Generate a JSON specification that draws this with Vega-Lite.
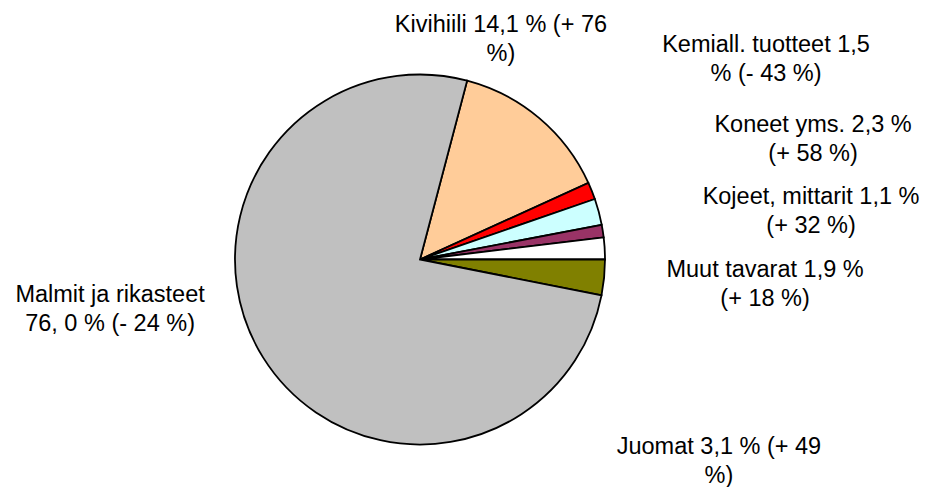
{
  "$schema": "https://vega.github.io/schema/vega-lite/v6.json",
  "width": 370,
  "height": 370,
  "autosize": {"type": "none"},
  "padding": {"left": 235, "top": 74.5, "right": 320, "bottom": 42.5},
  "background": "white",
  "config": {"view": {"stroke": null}},
  "data": {
    "values": [
      {"name": "Kivihiili", "share": 14.1, "ord": 1, "label": "Kivihiili 14,1 % (+ 76\n%)"},
      {"name": "Kemiall. tuotteet", "share": 1.5, "ord": 2, "label": "Kemiall. tuotteet 1,5\n% (- 43 %)"},
      {"name": "Koneet yms.", "share": 2.3, "ord": 3, "label": "Koneet yms. 2,3 %\n(+ 58 %)"},
      {"name": "Kojeet, mittarit", "share": 1.1, "ord": 4, "label": "Kojeet, mittarit 1,1 %\n(+ 32 %)"},
      {"name": "Muut tavarat", "share": 1.9, "ord": 5, "label": "Muut tavarat 1,9 %\n(+ 18 %)"},
      {"name": "Juomat", "share": 3.1, "ord": 6, "label": "Juomat 3,1 % (+ 49\n%)"},
      {"name": "Malmit ja rikasteet", "share": 76.0, "ord": 7, "label": "Malmit ja rikasteet\n76, 0 % (- 24 %)"}
    ]
  },
  "encoding": {
    "theta": {"field": "share", "type": "quantitative", "stack": true, "scale": {"range": [0.2576, 6.5408]}},
    "order": {"field": "ord", "type": "quantitative"}
  },
  "layer": [
    {
      "mark": {"type": "arc", "outerRadius": 185, "stroke": "black", "strokeWidth": 1.8},
      "encoding": {
        "color": {
          "field": "name",
          "type": "nominal",
          "legend": null,
          "scale": {
            "domain": ["Kivihiili", "Kemiall. tuotteet", "Koneet yms.", "Kojeet, mittarit", "Muut tavarat", "Juomat", "Malmit ja rikasteet"],
            "range": ["#FFCC99", "#FF0000", "#CCFFFF", "#993366", "#FFFFFF", "#808000", "#C0C0C0"]
          }
        }
      }
    },
    {
      "mark": {"type": "text", "radius": 200, "dx": -48, "dy": -74.6, "align": "center", "baseline": "alphabetic", "font": "Liberation Sans", "fontSize": 23.5, "lineHeight": 29, "lineBreak": "\n", "color": "black"},
      "encoding": {"text": {"condition": {"test": "datum.name === 'Kivihiili'", "field": "label"}, "value": ""}}
    },
    {
      "mark": {"type": "text", "radius": 200, "dx": 160.3, "dy": -133.3, "align": "center", "baseline": "alphabetic", "font": "Liberation Sans", "fontSize": 23.5, "lineHeight": 29, "lineBreak": "\n", "color": "black"},
      "encoding": {"text": {"condition": {"test": "datum.name === 'Kemiall. tuotteet'", "field": "label"}, "value": ""}}
    },
    {
      "mark": {"type": "text", "radius": 200, "dx": 199.8, "dy": -75.9, "align": "center", "baseline": "alphabetic", "font": "Liberation Sans", "fontSize": 23.5, "lineHeight": 29, "lineBreak": "\n", "color": "black"},
      "encoding": {"text": {"condition": {"test": "datum.name === 'Koneet yms.'", "field": "label"}, "value": ""}}
    },
    {
      "mark": {"type": "text", "radius": 200, "dx": 193.4, "dy": -24.8, "align": "center", "baseline": "alphabetic", "font": "Liberation Sans", "fontSize": 23.5, "lineHeight": 29, "lineBreak": "\n", "color": "black"},
      "encoding": {"text": {"condition": {"test": "datum.name === 'Kojeet, mittarit'", "field": "label"}, "value": ""}}
    },
    {
      "mark": {"type": "text", "radius": 200, "dx": 145.4, "dy": 29.4, "align": "center", "baseline": "alphabetic", "font": "Liberation Sans", "fontSize": 23.5, "lineHeight": 29, "lineBreak": "\n", "color": "black"},
      "encoding": {"text": {"condition": {"test": "datum.name === 'Muut tavarat'", "field": "label"}, "value": ""}}
    },
    {
      "mark": {"type": "text", "radius": 200, "dx": 99.9, "dy": 175.1, "align": "center", "baseline": "alphabetic", "font": "Liberation Sans", "fontSize": 23.5, "lineHeight": 29, "lineBreak": "\n", "color": "black"},
      "encoding": {"text": {"condition": {"test": "datum.name === 'Juomat'", "field": "label"}, "value": ""}}
    },
    {
      "mark": {"type": "text", "radius": 200, "dx": -140.4, "dy": -63.6, "align": "center", "baseline": "alphabetic", "font": "Liberation Sans", "fontSize": 23.5, "lineHeight": 29, "lineBreak": "\n", "color": "black"},
      "encoding": {"text": {"condition": {"test": "datum.name === 'Malmit ja rikasteet'", "field": "label"}, "value": ""}}
    }
  ]
}
